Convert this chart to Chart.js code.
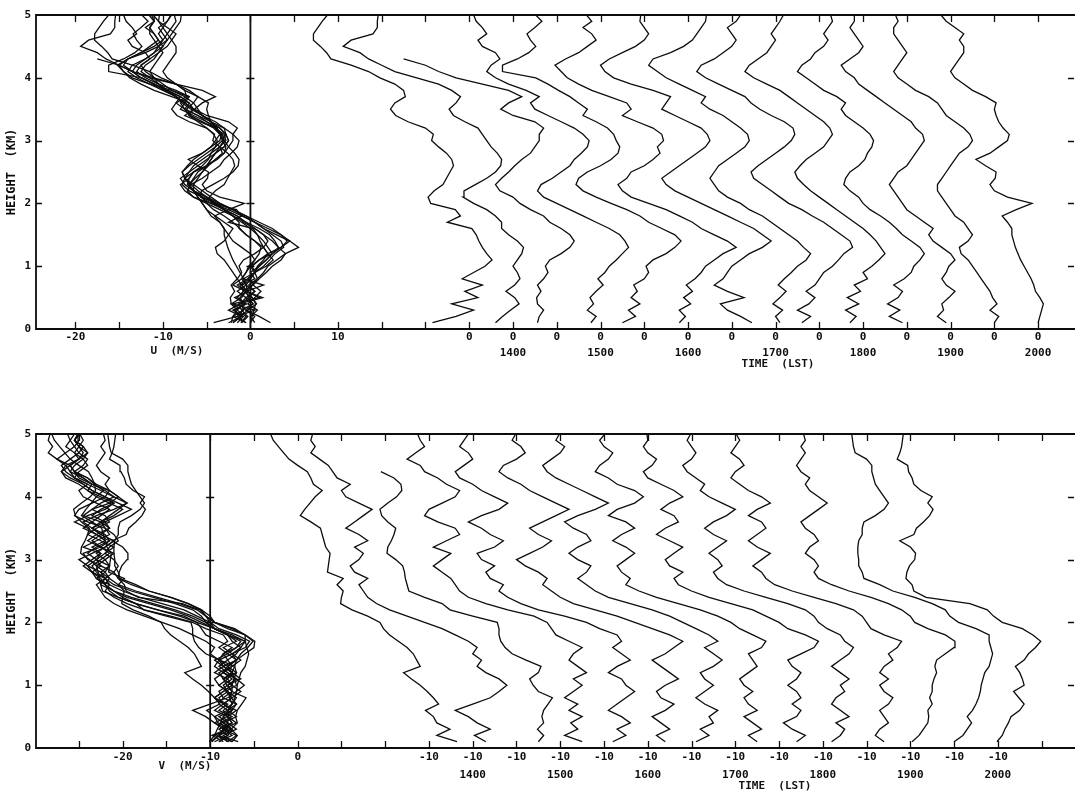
<!DOCTYPE html>
<html>
<head>
<meta charset="utf-8">
<script src="https://cdn.jsdelivr.net/npm/chart.js@4.4.0/dist/chart.umd.min.js"></script>
<style>
    body { margin: 0; background: #fff; }
    #wrap { position: relative; width: 1075px; height: 798px; background: #fff; }
    canvas { position: absolute; left: 0; }
    .lbl { position: absolute; font: bold 11px "DejaVu Sans Mono"; color: #111; white-space: pre; transform: translate(-50%, -50%); }
</style>
</head>
<body>
<div id="wrap">
    <canvas id="uChart" width="1075" height="400" style="top:0"></canvas>
    <canvas id="vChart" width="1075" height="398" style="top:400px"></canvas>
    <div class="lbl" style="left:177px;top:350px">U  (M/S)</div>
    <div class="lbl" style="left:778px;top:363px">TIME  (LST)</div>
    <div class="lbl" style="left:185px;top:765px">V  (M/S)</div>
    <div class="lbl" style="left:775px;top:785px">TIME  (LST)</div>
</div>
<script>
// Hauteurs (km) communes a tous les profils
const HEIGHTS = [0.1, 0.2, 0.3, 0.4, 0.5, 0.6, 0.7, 0.8, 0.9, 1.0,
                 1.1, 1.2, 1.3, 1.4, 1.5, 1.6, 1.7, 1.8, 1.9, 2.0,
                 2.1, 2.2, 2.3, 2.4, 2.5, 2.6, 2.7, 2.8, 2.9, 3.0,
                 3.1, 3.2, 3.3, 3.4, 3.5, 3.6, 3.7, 3.8, 3.9, 4.0,
                 4.1, 4.2, 4.3, 4.4, 4.5, 4.6, 4.7, 4.8, 4.9, 5.0];

const TIMES = ['1330', '1400', '1430', '1500', '1530', '1600', '1630',
               '1700', '1730', '1800', '1830', '1900', '1930', '2000'];

// decalage horizontal (m/s) de chaque profil dans la partie droite
const OFFSETS = [25, 30, 35, 40, 45, 50, 55, 60, 65, 70, 75, 80, 85, 90];

// graduations
const U_TICKS = [-20, -15, -10, -5, 0, 5, 10, 15, 20, 25, 30, 35, 40, 45, 50, 55, 60, 65, 70, 75, 80, 85, 90];
const V_TICKS = [-25, -20, -15, -10, -5, 0, 5, 10, 15, 20, 25, 30, 35, 40, 45, 50, 55, 60, 65, 70, 75, 80, 85];
const U_LABELLED = [-20, -10, 0, 10];
const V_LABELLED = [-20, -10, 0];
const HEIGHT_TICKS = [0, 1, 2, 3, 4, 5];

// U (m/s)
const U_1330 = [-4.2, -1.5, 0.5, -2.0, 1.0, -0.5, 1.5, -0.8, 0.5, 1.8,
                2.6, 2.0, 1.5, 1.1, 0.8, 0.3, -2.5, -1.0, -1.6, -4.4,
                -4.7, -4.0, -3.0, -2.6, -2.2, -1.8, -2.0, -2.6, -3.5, -4.3,
                -4.1, -5.0, -7.0, -8.4, -9.0, -8.5, -7.3, -7.5, -8.5, -10.2,
                -11.5, -13.5, -15.8, -16.3, -17.0, -17.8, -17.8, -17.3, -16.8, -16.2];
const U_1400 = [-2.0, -1.2, -0.3, 0.7, 0.2, -0.8, 0.2, 0.8, 0.5, 0.0,
                0.5, 1.0, 1.2, 0.5, -0.5, -1.3, -1.3, -2.0, -3.0, -4.5,
                -5.7, -5.6, -4.3, -3.0, -2.0, -1.4, -1.3, -1.8, -2.5, -3.0,
                -3.5, -4.0, -5.5, -6.8, -7.3, -6.5, -6.0, -7.0, -8.5, -11.0,
                -13.5, -15.0, -16.5, -17.5, -19.4, -18.5, -16.0, -15.5, -15.5, -15.4];
const U_1430 = [-2.2, -2.0, -1.5, -2.2, -2.3, -1.8, -2.2, -1.5, -1.0, -1.3,
                -0.8, 0.5, 1.5, 2.0, 1.5, 0.5, -0.8, -1.5, -3.0, -4.2,
                -5.0, -6.5, -7.0, -6.3, -5.5, -4.8, -4.0, -3.0, -2.5, -2.0,
                -2.0, -1.5, -2.5, -5.0, -6.4, -5.5, -4.0, -5.5, -8.5, -11.5,
                -13.5, -15.0, -17.5, null, null, null, null, null, null, null];
const U_1500 = [-1.1, -0.5, -1.5, -0.8, -1.2, -0.5, 0.3, -0.3, 0.5, 1.0,
                1.8, 2.5, 3.2, 2.8, 2.2, 1.0, -0.5, -2.0, -3.5, -5.0,
                -6.5, -7.2, -6.8, -5.5, -4.5, -3.5, -3.0, -2.2, -1.5, -1.3,
                -2.0, -3.0, -4.5, -6.0, -7.5, -8.0, -7.0, -8.5, -10.5, -12.0,
                -13.0, -12.5, -11.5, -12.0, -13.5, -14.0, -13.0, -13.5, -14.2, -14.5];
const U_1530 = [-2.5, -1.0, -1.8, -0.5, -1.5, -0.8, -1.2, 0.0, 0.5, 0.2,
                1.0, 2.5, 3.5, 4.2, 3.5, 2.0, 0.5, -0.5, -2.0, -3.8,
                -5.5, -7.0, -7.8, -7.5, -6.5, -5.0, -3.8, -3.0, -2.8, -3.2,
                -3.5, -4.2, -5.5, -7.0, -6.5, -7.5, -8.5, -9.8, -11.0, -12.4,
                -16.2, -16.2, -14.5, -13.2, -12.4, -13.0, -13.4, -12.5, -11.7, -12.4];
const U_1600 = [-1.0, -0.3, -1.0, 0.3, -0.5, 0.5, -0.2, 0.8, 1.5, 2.0,
                3.0, 4.0, 5.5, 4.5, 3.0, 1.5, 0.5, -1.0, -2.5, -4.5,
                -6.5, -7.5, -8.0, -7.0, -6.5, -5.0, -4.0, -3.2, -3.5, -2.8,
                -3.0, -4.0, -5.8, -7.5, -6.5, -7.0, -9.0, -11.0, -12.5, -13.8,
                -14.5, -15.2, -14.0, -12.5, -11.5, -10.5, -11.0, -12.0, -11.0, -11.6];
const U_1630 = [2.3, 1.0, -0.5, -1.3, 1.4, -0.5, -2.0, -1.0, -0.5, 0.0,
                1.0, 2.0, 3.5, 4.5, 3.5, 2.5, 1.0, -0.5, -2.0, -3.5,
                -5.0, -6.5, -7.5, -8.0, -7.0, -6.0, -5.0, -4.0, -3.0, -2.5,
                -2.8, -3.5, -5.0, -6.5, -8.0, -7.5, -7.0, -9.0, -11.5, -13.5,
                -14.5, -15.0, -14.0, -12.5, -11.0, -10.0, -9.5, -10.0, -10.5, -10.4];
const U_1700 = [0.5, 0.0, 0.8, -0.3, 0.5, 1.2, 0.3, 1.0, 1.8, 2.5,
                3.5, 4.0, 3.2, 2.5, 1.5, 0.5, -0.5, -1.5, -3.0, -4.0,
                -5.5, -6.5, -7.0, -7.5, -7.0, -6.5, -5.5, -4.5, -3.5, -3.0,
                -3.2, -4.0, -5.0, -6.0, -7.5, -8.5, -8.0, -9.5, -11.0, -12.5,
                -13.5, -14.5, -14.0, -12.0, -10.5, -9.5, -9.0, -8.5, -8.0, -7.9];
const U_1730 = [-2.0, -1.0, -2.5, -1.2, -0.5, -1.5, -0.5, 0.0, 0.5, 1.5,
                2.2, 2.8, 3.8, 3.5, 2.5, 1.5, 0.5, -0.8, -2.0, -3.5,
                -4.5, -5.5, -6.5, -7.5, -7.8, -7.0, -6.0, -5.0, -4.0, -3.2,
                -2.8, -3.0, -4.0, -5.5, -6.8, -7.8, -8.5, -10.0, -11.5, -13.0,
                -14.0, -13.5, -12.0, -11.0, -10.0, -9.5, -10.0, -10.5, -9.5, -9.0];
const U_1800 = [-1.5, -0.8, -2.0, -0.5, -1.8, -0.3, -1.0, 0.5, 0.0, 1.0,
                1.8, 2.5, 2.0, 1.5, 0.8, 0.0, -1.0, -2.0, -3.0, -4.0,
                -5.0, -6.0, -6.8, -7.5, -7.8, -7.2, -6.5, -5.5, -4.5, -4.0,
                -3.5, -3.8, -4.5, -5.5, -6.5, -7.5, -8.5, -9.5, -11.0, -12.5,
                -13.5, -13.0, -12.0, -11.0, -10.5, -10.0, -10.5, -10.0, -9.5, -9.1];
const U_1830 = [-0.5, -2.0, -0.8, -2.2, -1.0, -0.5, -1.5, -0.3, 0.5, 0.8,
                1.5, 2.0, 1.5, 0.5, -0.5, -1.2, -2.0, -3.0, -4.2, -5.0,
                -5.5, -6.5, -7.2, -7.0, -6.5, -5.5, -4.8, -4.5, -4.0, -3.8,
                -4.2, -5.0, -6.0, -7.0, -7.5, -7.0, -8.0, -9.5, -10.5, -11.5,
                -12.5, -12.0, -11.0, -10.5, -9.5, -9.0, -9.5, -9.0, -8.5, -8.7];
const U_1900 = [-0.5, -1.5, -0.8, -1.0, -0.2, 0.5, -0.5, -1.0, -0.5, -0.2,
                0.5, 0.0, -1.0, -2.0, -2.5, -2.0, -3.0, -4.0, -5.0, -5.5,
                -6.0, -6.5, -7.0, -6.5, -6.0, -5.0, -4.5, -4.0, -3.5, -3.0,
                -3.2, -4.0, -4.5, -5.5, -6.5, -7.5, -8.5, -9.5, -10.5, -11.0,
                -12.0, -12.5, -11.5, -10.5, -10.0, -10.5, -11.0, -11.5, -11.0, -11.0];
const U_1930 = [0.0, 0.5, -0.5, 0.3, -0.2, -0.5, -1.0, -1.5, -2.0, -2.5,
                -3.0, -3.8, -4.0, -3.0, -2.5, -3.0, -3.5, -4.5, -5.0, -5.5,
                -6.0, -6.5, -6.5, -6.0, -5.5, -5.0, -4.5, -4.0, -3.0, -2.5,
                -2.8, -3.5, -4.5, -5.5, -6.0, -6.5, -7.5, -9.0, -10.0, -11.0,
                -11.5, -11.0, -10.5, -10.0, -10.5, -11.0, -11.5, -11.5, -11.0, -11.3];
const U_2000 = [0.0, 0.2, 0.4, 0.6, 0.2, -0.3, -0.5, -0.8, -1.2, -1.6,
                -2.0, -2.3, -2.6, -2.8, -3.0, -3.0, -3.5, -4.1, -2.5, -0.7,
                -3.5, -5.0, -5.5, -4.9, -4.8, -6.0, -7.1, -5.5, -4.5, -3.5,
                -3.3, -4.0, -4.5, -4.8, -5.0, -4.8, -6.0, -7.5, -8.5, -9.5,
                -10.0, -9.5, -9.0, -8.5, -8.5, -9.0, -8.5, -9.5, -10.5, -11.1];

// V (m/s)
const V_1330 = [-6.8, -9.1, -7.6, -9.1, -9.5, -10.4, -8.9, -9.5, -10.2, -11.0,
                -12.0, -12.9, -11.0, -11.4, -11.8, -12.5, -13.5, -14.5, -15.2, -15.6,
                -17.0, -18.8, -20.1, -20.0, -19.8, -20.5, -19.8, -21.6, -21.5, -21.4,
                -21.3, -21.8, -22.0, -22.2, -22.4, -23.5, -24.7, -24.2, -23.6, -23.0,
                -22.2, -23.2, -23.5, -23.9, -25.0, -26.0, -26.6, -27.2, -27.8, -28.1];
const V_1400 = [-8.5, -9.8, -8.0, -9.5, -10.5, -12.0, -10.0, -8.0, -7.0, -6.1,
                -7.0, -8.5, -9.5, -9.0, -10.0, -9.5, -10.5, -12.0, -13.5, -15.5,
                -17.5, -19.5, -21.0, -22.0, -22.5, -23.0, -22.0, -23.5, -24.0, -23.0,
                -22.5, -23.5, -22.0, -23.0, -24.5, -23.5, -22.5, -21.5, -23.0, -24.5,
                -25.0, -24.0, -25.5, -26.0, -26.5, -27.5, -28.5, -28.0, -28.5, -28.3];
const V_1430 = [-7.5, -6.9, -7.6, -6.9, -7.1, -6.9, -6.4, -5.9, -7.5, -8.1,
                -8.5, -7.5, -7.2, -8.9, -10.5, -11.3, -11.8, -12.0, -12.0, -12.2,
                -15.0, -17.6, -18.5, -20.5, -22.3, -22.5, -22.7, -22.8, -23.0, -23.8,
                -24.8, -24.7, -24.3, -24.0, -23.8, -24.7, -25.4, -25.6, -24.7, -23.7,
                -23.1, -23.2, -24.0, -25.5, null, null, null, null, null, null];
const V_1500 = [-7.5, -9.5, -8.0, -8.8, -7.5, -9.0, -8.0, -9.5, -8.5, -7.5,
                -8.5, -7.0, -8.0, -9.0, -8.5, -7.5, -9.0, -10.5, -11.0, -11.5,
                -13.0, -16.0, -18.5, -20.5, -21.5, -22.0, -22.5, -23.5, -24.5, -23.5,
                -22.5, -24.5, -23.0, -21.5, -22.0, -24.0, -25.5, -25.0, -23.5, -22.0,
                -21.5, -23.0, -24.0, -25.5, -26.0, -27.5, -26.5, -25.5, -26.0, -26.3];
const V_1530 = [-9.0, -7.5, -8.5, -7.0, -8.0, -9.5, -8.5, -7.5, -6.5, -7.5,
                -8.0, -9.5, -8.5, -7.0, -8.0, -9.0, -8.0, -8.5, -10.5, -12.0,
                -14.5, -17.5, -19.5, -21.0, -22.0, -21.5, -23.0, -23.5, -22.5, -24.0,
                -24.5, -22.5, -21.5, -23.0, -24.0, -25.5, -24.0, -22.0, -21.0, -22.5,
                -24.0, -25.0, -26.5, -27.0, -26.0, -25.0, -25.5, -26.5, -26.0, -25.5];
const V_1600 = [-8.0, -9.0, -7.5, -8.5, -9.5, -8.0, -7.0, -8.5, -9.0, -8.0,
                -6.5, -7.5, -8.5, -9.5, -8.0, -7.0, -6.0, -7.5, -9.5, -11.5,
                -13.5, -16.0, -18.5, -20.0, -21.0, -22.0, -21.5, -22.5, -24.0, -25.0,
                -23.5, -22.0, -21.0, -22.5, -23.5, -22.0, -20.5, -19.0, -20.5, -22.0,
                -23.5, -24.5, -26.0, -27.0, -26.5, -25.0, -24.0, -24.5, -25.5, -25.1];
const V_1630 = [-9.5, -8.0, -9.0, -7.5, -8.0, -7.0, -8.5, -9.5, -8.5, -7.5,
                -8.5, -9.0, -7.5, -6.5, -7.5, -8.5, -7.0, -8.0, -9.5, -11.0,
                -12.5, -14.5, -17.0, -19.5, -21.0, -22.0, -23.0, -22.0, -21.5, -23.0,
                -24.0, -23.0, -21.5, -22.0, -23.5, -24.5, -23.0, -21.0, -19.5, -21.0,
                -22.5, -24.0, -25.5, -26.5, -27.0, -26.0, -25.0, -24.5, -25.5, -25.1];
const V_1700 = [-7.5, -8.5, -7.0, -8.0, -9.0, -7.5, -8.5, -9.0, -8.0, -9.0,
                -9.5, -8.5, -7.5, -8.0, -8.5, -7.0, -6.5, -8.0, -9.5, -10.5,
                -12.0, -14.0, -16.5, -19.0, -21.0, -22.5, -22.0, -23.0, -23.5, -22.5,
                -21.5, -22.5, -24.0, -23.0, -21.5, -22.5, -24.5, -23.5, -21.5, -20.5,
                -21.5, -23.5, -24.5, -26.0, -25.5, -24.5, -24.0, -25.0, -25.5, -24.9];
const V_1730 = [-8.0, -7.0, -8.5, -9.5, -8.0, -7.5, -8.5, -7.5, -8.0, -9.0,
                -8.0, -7.5, -8.5, -9.0, -7.5, -6.0, -5.5, -7.0, -9.0, -10.0,
                -11.5, -13.0, -15.5, -18.0, -20.0, -21.5, -22.0, -21.0, -22.5, -23.0,
                -22.0, -21.0, -22.5, -24.0, -23.0, -21.5, -22.0, -23.5, -22.5, -21.0,
                -22.0, -23.5, -25.0, -25.5, -24.5, -24.0, -25.0, -25.5, -25.0, -25.1];
const V_1800 = [-9.0, -8.0, -7.5, -8.5, -7.0, -8.0, -9.0, -8.5, -7.5, -8.0,
                -7.0, -8.0, -9.0, -8.0, -7.0, -6.5, -7.5, -8.0, -9.5, -10.5,
                -11.0, -12.0, -14.0, -16.5, -19.0, -21.0, -22.0, -22.5, -21.5, -22.0,
                -23.0, -22.0, -21.0, -22.5, -23.5, -22.5, -21.0, -20.0, -21.5, -23.0,
                -24.0, -23.5, -24.5, -25.5, -26.0, -25.0, -24.5, -25.0, -25.5, -25.1];
const V_1830 = [-8.0, -9.0, -8.5, -7.5, -8.0, -8.5, -7.5, -7.0, -8.0, -8.5,
                -7.5, -8.5, -8.0, -7.0, -7.5, -6.5, -6.0, -8.0, -9.5, -10.0,
                -10.5, -11.5, -13.5, -16.0, -18.5, -20.5, -21.5, -22.0, -23.0, -22.0,
                -21.0, -22.5, -23.5, -22.5, -21.5, -22.0, -23.5, -22.5, -21.0, -22.0,
                -23.5, -24.5, -25.5, -25.0, -24.0, -24.5, -25.5, -25.0, -24.5, -24.9];
const V_1900 = [-9.8, -9.0, -8.5, -8.0, -7.9, -8.0, -7.5, -7.8, -7.5, -7.5,
                -7.3, -7.0, -7.2, -7.0, -6.0, -5.0, -4.9, -6.0, -8.0, -9.5,
                -10.0, -11.0, -12.5, -14.5, -17.0, -19.0, -20.5, -21.0, -20.5, -21.0,
                -22.0, -21.5, -20.5, -21.0, -22.0, -22.5, -21.5, -20.5, -19.5, -20.5,
                -21.5, -22.0, -21.5, -22.5, -23.0, -22.5, -22.0, -22.5, -22.0, -22.2];
const V_1930 = [-10.0, -9.0, -8.5, -8.0, -8.5, -7.9, -7.5, -7.2, -7.0, -6.9,
                -6.7, -6.5, -6.0, -5.8, -5.6, -5.8, -6.0, -6.0, -7.5, -9.5,
                -10.5, -11.0, -12.5, -14.5, -17.0, -18.5, -20.3, -20.5, -20.9, -20.9,
                -21.0, -21.0, -20.9, -20.5, -20.5, -20.3, -19.0, -18.0, -17.5, -18.0,
                -18.5, -19.0, -19.2, -19.4, -19.4, -20.0, -21.3, -21.5, -21.6, -21.7];
const V_2000 = [-10.1, -9.5, -9.2, -8.8, -8.5, -7.5, -7.0, -7.6, -8.2, -7.0,
                -7.2, -7.5, -8.0, -7.0, -6.5, -5.7, -5.1, -6.0, -7.2, -9.5,
                -10.5, -11.2, -13.2, -18.2, -19.6, -19.8, -20.5, -20.4, -20.1, -19.5,
                -19.4, -20.0, -21.2, -19.6, -19.3, -18.5, -17.8, -17.4, -18.0, -17.5,
                -18.8, -19.6, -19.8, -20.2, -20.3, -21.5, -21.2, -21.0, -20.9, -20.8];

const U_SERIES = [U_1330, U_1400, U_1430, U_1500, U_1530, U_1600, U_1630,
                  U_1700, U_1730, U_1800, U_1830, U_1900, U_1930, U_2000];
const V_SERIES = [V_1330, V_1400, V_1430, V_1500, V_1530, V_1600, V_1630,
                  V_1700, V_1730, V_1800, V_1830, V_1900, V_1930, V_2000];

const INK = '#0d0d0d';
const FONT = { family: 'DejaVu Sans Mono', size: 11, weight: 'bold' };

// cadre, graduations vers l'interieur et ligne verticale de reference
const framePlugin = {
    id: 'frame',
    afterDatasetsDraw(chart, args, opts) {
        const { ctx, chartArea: a, scales: { x, y } } = chart;
        ctx.save();
        ctx.strokeStyle = INK;
        ctx.lineWidth = 1.8;
        ctx.beginPath();
        ctx.moveTo(a.right + 1, a.top);
        ctx.lineTo(a.left, a.top);
        ctx.lineTo(a.left, a.bottom);
        ctx.lineTo(a.right + 1, a.bottom);
        const zx = x.getPixelForValue(opts.zero);
        ctx.moveTo(zx, a.top);
        ctx.lineTo(zx, a.bottom);
        ctx.stroke();

        ctx.lineWidth = 1.3;
        ctx.beginPath();
        x.ticks.forEach(t => {
            const px = Math.round(x.getPixelForValue(t.value)) + 0.5;
            ctx.moveTo(px, a.bottom); ctx.lineTo(px, a.bottom - 7);
            ctx.moveTo(px, a.top); ctx.lineTo(px, a.top + 7);
        });
        y.ticks.forEach(t => {
            const py = Math.round(y.getPixelForValue(t.value)) + 0.5;
            if (t.value === 0 || t.value === 5) return;
            ctx.moveTo(a.left, py); ctx.lineTo(a.left + 6, py);
            ctx.moveTo(a.right, py); ctx.lineTo(a.right - 6, py);
            ctx.moveTo(zx - 4, py); ctx.lineTo(zx + 4, py);
        });
        ctx.stroke();
        ctx.restore();
    }
};

function profileDatasets(series, shift) {
    return series.map((vals, i) => ({
        label: TIMES[i] + (shift ? ' decale' : ''),
        data: HEIGHTS.map((h, j) => vals[j] === null ? null : { x: vals[j] + (shift ? OFFSETS[i] : 0), y: h })
                     .filter(p => p !== null),
        borderColor: INK,
        borderWidth: 1.3,
        pointRadius: 0,
        fill: false,
        tension: 0
    }));
}

function makeChart(id, series, opts) {
    return new Chart(document.getElementById(id), {
        type: 'line',
        data: { datasets: profileDatasets(series, false).concat(profileDatasets(series, true)) },
        options: {
            responsive: false,
            animation: false,
            layout: { padding: { top: opts.top, right: 1, left: 0, bottom: 0 } },
            plugins: {
                legend: { display: false },
                tooltip: { enabled: false },
                frame: { zero: opts.zero }
            },
            scales: {
                x: {
                    type: 'linear',
                    min: opts.min,
                    max: opts.max,
                    grid: { display: false, drawTicks: false },
                    border: { display: false },
                    afterBuildTicks: s => { s.ticks = opts.ticks.map(v => ({ value: v })); },
                    afterFit: s => { s.height = opts.axisHeight; },
                    ticks: {
                        autoSkip: false,
                        maxRotation: 0,
                        padding: 0,
                        color: INK,
                        font: Object.assign({ lineHeight: opts.lineHeight }, FONT),
                        callback: (value) => {
                            const i = OFFSETS.indexOf(value - opts.labelShift);
                            if (i >= 0) {
                                return TIMES[i].endsWith('00') ? [opts.profileLabel, TIMES[i]] : opts.profileLabel;
                            }
                            return opts.labelled.includes(value) ? String(value) : '';
                        }
                    }
                },
                y: {
                    type: 'linear',
                    min: 0,
                    max: 5,
                    grid: { display: false, drawTicks: false },
                    border: { display: false },
                    afterBuildTicks: s => { s.ticks = HEIGHT_TICKS.map(v => ({ value: v })); },
                    afterFit: s => { s.width = 36; },
                    ticks: { padding: 5, color: INK, font: FONT },
                    title: {
                        display: true,
                        text: 'HEIGHT  (KM)',
                        color: INK,
                        font: { family: 'DejaVu Sans Mono', size: 12, weight: 'bold' },
                        padding: { top: 5, bottom: 0 }
                    }
                }
            }
        },
        plugins: [framePlugin]
    });
}

document.addEventListener('DOMContentLoaded', function () {
    // Graphique 1 : composante U
    makeChart('uChart', U_SERIES, {
        top: 15, axisHeight: 71, min: -24.5, max: 94.1, zero: 0,
        ticks: U_TICKS, labelled: U_LABELLED, profileLabel: '0', labelShift: 0,
        lineHeight: '16px'
    });

    // Graphique 2 : composante V (profils decales, -10 m/s sous chaque profil)
    makeChart('vChart', V_SERIES, {
        top: 34, axisHeight: 50, min: -29.9, max: 88.7, zero: -10,
        ticks: V_TICKS, labelled: V_LABELLED, profileLabel: '-10', labelShift: -10,
        lineHeight: '18px'
    });
});
</script>
</body>
</html>
